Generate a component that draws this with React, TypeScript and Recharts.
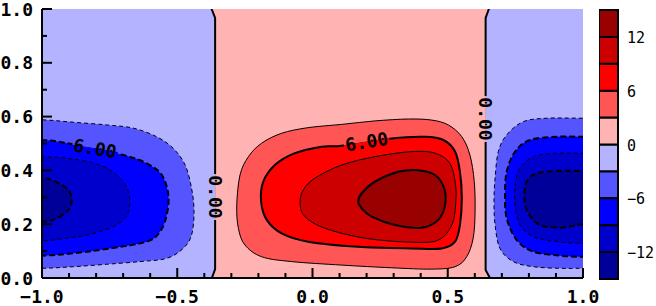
import React from "react";
import {
  ComposedChart,
  Scatter,
  XAxis,
  YAxis,
  ReferenceArea,
  ReferenceDot,
  BarChart,
  Bar,
} from "recharts";

type Pt = { x: number; y: number };

// axis ticks
const xTicks = [-1, -0.9, -0.8, -0.7, -0.6, -0.5, -0.4, -0.3, -0.2, -0.1, 0, 0.1, 0.2, 0.3, 0.4, 0.5, 0.6, 0.7, 0.8, 0.9, 1];
const xMajor = [-1, -0.5, 0, 0.5, 1];
const yTicks = [0, 0.1, 0.2, 0.3, 0.4, 0.5, 0.6, 0.7, 0.8, 0.9, 1];
const yMajor = [0, 0.2, 0.4, 0.6, 0.8, 1];

// contour levels / colours (bottom -> top of colour bar)
const levels = [-15, -12, -9, -6, -3, 0, 3, 6, 9, 12, 15];
const levelColors = ["#000099", "#0000cc", "#0000ff", "#5555ff", "#b3b3ff", "#ffb3b3", "#ff5555", "#ff0000", "#cc0000", "#990000"];
const cbTicks = [-12, -6, 0, 6, 12];

// zero contour (pink band between the two zero lines), extended past the frame
const zeroBand: Pt[] = [
  { x: -0.395, y: 1.06 }, { x: -0.373, y: 1.0 }, { x: -0.36, y: 0.967 }, { x: -0.36, y: 0.033 },
  { x: -0.372, y: 0.0 }, { x: -0.394, y: -0.06 },
  { x: 0.68, y: -0.06 }, { x: 0.656, y: 0.0 }, { x: 0.64, y: 0.03 }, { x: 0.64, y: 0.967 },
  { x: 0.652, y: 1.0 }, { x: 0.674, y: 1.06 },
];

// positive blob (middle)
const pos3: Pt[] = [
  { x: -0.28, y: 0.271 }, { x: -0.268, y: 0.383 }, { x: -0.237, y: 0.451 }, { x: -0.188, y: 0.501 },
  { x: -0.114, y: 0.538 }, { x: -0.016, y: 0.559 }, { x: 0.108, y: 0.571 }, { x: 0.231, y: 0.584 },
  { x: 0.354, y: 0.591 }, { x: 0.441, y: 0.587 }, { x: 0.502, y: 0.569 }, { x: 0.552, y: 0.525 },
  { x: 0.582, y: 0.457 }, { x: 0.598, y: 0.358 }, { x: 0.601, y: 0.246 }, { x: 0.594, y: 0.148 },
  { x: 0.57, y: 0.079 }, { x: 0.527, y: 0.042 }, { x: 0.441, y: 0.033 }, { x: 0.293, y: 0.038 },
  { x: 0.108, y: 0.048 }, { x: -0.077, y: 0.061 }, { x: -0.188, y: 0.079 }, { x: -0.25, y: 0.123 },
  { x: -0.274, y: 0.185 },
];
const pos6: Pt[] = [
  { x: -0.19, y: 0.284 }, { x: -0.182, y: 0.358 }, { x: -0.139, y: 0.42 }, { x: -0.065, y: 0.464 },
  { x: 0.034, y: 0.488 }, { x: 0.108, y: 0.492 }, { x: 0.293, y: 0.519 }, { x: 0.416, y: 0.525 },
  { x: 0.484, y: 0.513 }, { x: 0.527, y: 0.47 }, { x: 0.545, y: 0.395 }, { x: 0.552, y: 0.296 },
  { x: 0.545, y: 0.197 }, { x: 0.527, y: 0.135 }, { x: 0.478, y: 0.11 }, { x: 0.367, y: 0.11 },
  { x: 0.169, y: 0.116 }, { x: -0.016, y: 0.135 }, { x: -0.114, y: 0.166 }, { x: -0.169, y: 0.216 },
];
const pos9: Pt[] = [
  { x: -0.046, y: 0.278 }, { x: -0.034, y: 0.327 }, { x: 0.009, y: 0.371 }, { x: 0.108, y: 0.42 },
  { x: 0.231, y: 0.451 }, { x: 0.367, y: 0.47 }, { x: 0.453, y: 0.464 }, { x: 0.508, y: 0.426 },
  { x: 0.529, y: 0.346 }, { x: 0.529, y: 0.271 }, { x: 0.515, y: 0.197 }, { x: 0.465, y: 0.141 },
  { x: 0.367, y: 0.133 }, { x: 0.194, y: 0.148 }, { x: 0.046, y: 0.185 }, { x: -0.028, y: 0.228 },
];
const pos12: Pt[] = [
  { x: 0.169, y: 0.284 }, { x: 0.182, y: 0.315 }, { x: 0.231, y: 0.358 }, { x: 0.317, y: 0.395 },
  { x: 0.391, y: 0.401 }, { x: 0.453, y: 0.383 }, { x: 0.487, y: 0.333 }, { x: 0.49, y: 0.271 },
  { x: 0.465, y: 0.216 }, { x: 0.404, y: 0.187 }, { x: 0.305, y: 0.197 }, { x: 0.219, y: 0.228 },
  { x: 0.182, y: 0.259 },
];

// negative blob cut by the left edge
const negL3: Pt[] = [
  { x: -1.15, y: 0.588 }, { x: -1.0, y: 0.588 }, { x: -0.884, y: 0.579 }, { x: -0.761, y: 0.569 },
  { x: -0.662, y: 0.557 }, { x: -0.576, y: 0.525 }, { x: -0.515, y: 0.482 }, { x: -0.471, y: 0.42 },
  { x: -0.447, y: 0.333 }, { x: -0.438, y: 0.246 }, { x: -0.447, y: 0.16 }, { x: -0.478, y: 0.11 },
  { x: -0.539, y: 0.073 }, { x: -0.638, y: 0.061 }, { x: -0.761, y: 0.051 }, { x: -0.884, y: 0.042 },
  { x: -1.0, y: 0.036 }, { x: -1.15, y: 0.036 },
];
const negL6: Pt[] = [
  { x: -1.15, y: 0.513 }, { x: -1.0, y: 0.513 }, { x: -0.884, y: 0.497 }, { x: -0.699, y: 0.457 },
  { x: -0.613, y: 0.426 }, { x: -0.557, y: 0.383 }, { x: -0.533, y: 0.309 }, { x: -0.539, y: 0.234 },
  { x: -0.564, y: 0.172 }, { x: -0.613, y: 0.135 }, { x: -0.761, y: 0.108 }, { x: -0.884, y: 0.092 },
  { x: -1.0, y: 0.083 }, { x: -1.15, y: 0.083 },
];
const negL9: Pt[] = [
  { x: -1.15, y: 0.451 }, { x: -1.0, y: 0.451 }, { x: -0.884, y: 0.442 }, { x: -0.786, y: 0.42 },
  { x: -0.724, y: 0.383 }, { x: -0.685, y: 0.333 }, { x: -0.675, y: 0.278 }, { x: -0.689, y: 0.228 },
  { x: -0.736, y: 0.191 }, { x: -0.823, y: 0.162 }, { x: -0.909, y: 0.148 }, { x: -1.0, y: 0.138 },
  { x: -1.15, y: 0.138 },
];
const negL12: Pt[] = [
  { x: -1.15, y: 0.371 }, { x: -1.0, y: 0.371 }, { x: -0.946, y: 0.356 }, { x: -0.903, y: 0.327 },
  { x: -0.89, y: 0.29 }, { x: -0.903, y: 0.253 }, { x: -0.946, y: 0.222 }, { x: -1.0, y: 0.209 },
  { x: -1.15, y: 0.209 },
];

// negative blob cut by the right edge
const negR3: Pt[] = [
  { x: 1.15, y: 0.594 }, { x: 1.0, y: 0.594 }, { x: 0.866, y: 0.594 }, { x: 0.779, y: 0.581 },
  { x: 0.718, y: 0.532 }, { x: 0.687, y: 0.47 }, { x: 0.675, y: 0.371 }, { x: 0.671, y: 0.284 },
  { x: 0.675, y: 0.197 }, { x: 0.693, y: 0.11 }, { x: 0.742, y: 0.061 }, { x: 0.816, y: 0.042 },
  { x: 0.915, y: 0.036 }, { x: 1.0, y: 0.036 }, { x: 1.15, y: 0.036 },
];
const negR6: Pt[] = [
  { x: 1.15, y: 0.525 }, { x: 1.0, y: 0.525 }, { x: 0.903, y: 0.525 }, { x: 0.804, y: 0.513 },
  { x: 0.749, y: 0.47 }, { x: 0.718, y: 0.395 }, { x: 0.712, y: 0.309 }, { x: 0.718, y: 0.222 },
  { x: 0.755, y: 0.141 }, { x: 0.816, y: 0.098 }, { x: 0.915, y: 0.083 }, { x: 1.0, y: 0.079 },
  { x: 1.15, y: 0.079 },
];
const negR9: Pt[] = [
  { x: 1.15, y: 0.464 }, { x: 1.0, y: 0.464 }, { x: 0.903, y: 0.464 }, { x: 0.816, y: 0.451 },
  { x: 0.767, y: 0.408 }, { x: 0.749, y: 0.346 }, { x: 0.749, y: 0.271 }, { x: 0.767, y: 0.197 },
  { x: 0.816, y: 0.154 }, { x: 0.903, y: 0.135 }, { x: 1.0, y: 0.129 }, { x: 1.15, y: 0.129 },
];
const negR12: Pt[] = [
  { x: 1.15, y: 0.398 }, { x: 1.0, y: 0.398 }, { x: 0.903, y: 0.398 }, { x: 0.829, y: 0.389 },
  { x: 0.792, y: 0.358 }, { x: 0.783, y: 0.296 }, { x: 0.798, y: 0.241 }, { x: 0.841, y: 0.197 },
  { x: 0.915, y: 0.187 }, { x: 0.964, y: 0.194 }, { x: 1.0, y: 0.2 }, { x: 1.15, y: 0.2 },
];

// contour labels
const labelX = [0.2, -0.804, -0.36, 0.641];
const labelY = [0.507, 0.482, 0.301, 0.591];
const labelText = ["6.00", "6.00", "0.00", "0.00"];

const FONT = "'DejaVu Sans Mono', monospace";
const THIN_DASH = "4 3";
const THICK_DASH = "6 3";

type Style = { fill: string; width: number; dash?: string; smooth: boolean };

const contours: { pts: Pt[]; style: Style }[] = [
  { pts: zeroBand, style: { fill: levelColors[5], width: 2, smooth: false } },
  { pts: pos3, style: { fill: levelColors[6], width: 1, smooth: true } },
  { pts: pos6, style: { fill: levelColors[7], width: 2, smooth: true } },
  { pts: pos9, style: { fill: levelColors[8], width: 1, smooth: true } },
  { pts: pos12, style: { fill: levelColors[9], width: 2, smooth: true } },
  { pts: negL3, style: { fill: levelColors[3], width: 1, dash: THIN_DASH, smooth: true } },
  { pts: negL6, style: { fill: levelColors[2], width: 2, dash: THICK_DASH, smooth: true } },
  { pts: negL9, style: { fill: levelColors[1], width: 1, dash: THIN_DASH, smooth: true } },
  { pts: negL12, style: { fill: levelColors[0], width: 2, dash: THICK_DASH, smooth: true } },
  { pts: negR3, style: { fill: levelColors[3], width: 1, dash: THIN_DASH, smooth: true } },
  { pts: negR6, style: { fill: levelColors[2], width: 2, dash: THICK_DASH, smooth: true } },
  { pts: negR9, style: { fill: levelColors[1], width: 1, dash: THIN_DASH, smooth: true } },
  { pts: negR12, style: { fill: levelColors[0], width: 2, dash: THICK_DASH, smooth: true } },
];

// label look: rotation and the two colours either side of the broken line
const labelLook = [
  { rot: -9, a: levelColors[6], b: levelColors[7] },
  { rot: 9, a: levelColors[3], b: levelColors[2] },
  { rot: 90, a: levelColors[5], b: levelColors[4] },
  { rot: 90, a: levelColors[4], b: levelColors[5] },
];

function closedPath(pts: { x: number; y: number }[], smooth: boolean) {
  const n = pts.length;
  if (!n) return "";
  if (!smooth) return "M" + pts.map((p) => `${p.x},${p.y}`).join("L") + "Z";
  let d = `M${pts[0].x},${pts[0].y}`;
  for (let i = 0; i < n; i++) {
    const p0 = pts[(i - 1 + n) % n];
    const p1 = pts[i];
    const p2 = pts[(i + 1) % n];
    const p3 = pts[(i + 2) % n];
    const c1x = p1.x + (p2.x - p0.x) / 6;
    const c1y = p1.y + (p2.y - p0.y) / 6;
    const c2x = p2.x - (p3.x - p1.x) / 6;
    const c2y = p2.y - (p3.y - p1.y) / 6;
    d += `C${c1x},${c1y} ${c2x},${c2y} ${p2.x},${p2.y}`;
  }
  return d + "Z";
}

const outline = (s: Style) => (props: any) => (
  <path
    d={closedPath(props.points || [], s.smooth)}
    fill={s.fill}
    stroke="#000"
    strokeWidth={s.width}
    strokeDasharray={s.dash}
  />
);

const noDot = () => <g />;

const fmt = (v: number) => (Math.abs(v) < 1e-9 ? "0.0" : v.toFixed(1).replace("-", "\u2212"));

function axisTick(side: "bottom" | "top" | "left" | "right", majors: number[], withLabels: boolean) {
  return (p: any) => {
    const v = p.payload.value;
    const major = majors.some((m) => Math.abs(m - v) < 1e-6);
    const len = major ? 10 : 5;
    const { x, y } = p;
    const ln = { stroke: "#000", strokeWidth: 2 };
    let line = null;
    let label = null;
    if (side === "bottom") {
      line = <line x1={x} y1={y} x2={x} y2={y - len} {...ln} />;
      if (withLabels && major)
        label = (
          <text x={x} y={y + 25} textAnchor="middle" fontFamily={FONT} fontWeight="bold" fontSize={18} fill="#000">
            {fmt(v)}
          </text>
        );
    } else if (side === "top") {
      line = <line x1={x} y1={y} x2={x} y2={y + len} {...ln} />;
    } else if (side === "left") {
      line = <line x1={x} y1={y} x2={x + len} y2={y} {...ln} />;
      if (withLabels && major)
        label = (
          <text x={x - 9} y={y + 6.5} textAnchor="end" fontFamily={FONT} fontWeight="bold" fontSize={18} fill="#000">
            {fmt(v)}
          </text>
        );
    } else {
      line = <line x1={x} y1={y} x2={x - len} y2={y} {...ln} />;
    }
    return (
      <g>
        {line}
        {label}
      </g>
    );
  };
}

const contourLabel = (i: number) => (p: any) => {
  const { cx, cy } = p;
  const look = labelLook[i];
  return (
    <g transform={`translate(${cx},${cy}) rotate(${look.rot})`}>
      <rect x={-23} y={-3.5} width={46} height={3.5} fill={look.a} />
      <rect x={-23} y={0} width={46} height={3.5} fill={look.b} />
      <text
        x={0}
        y={0}
        textAnchor="middle"
        dominantBaseline="central"
        fontFamily={FONT}
        fontWeight="bold"
        fontSize={18}
        fill="#000"
      >
        {labelText[i]}
      </text>
    </g>
  );
};

// colour bar: one stacked column, negatives stacked downward from 0
const cbRow: Record<string, number | string> = { name: "cb" };
levels.slice(0, -1).forEach((lo, i) => {
  cbRow[`b${i}`] = lo < 0 ? lo - levels[i + 1] : levels[i + 1] - lo;
});
const cbOrder = [4, 3, 2, 1, 0, 5, 6, 7, 8, 9];

const cbTick = (p: any) => {
  const s = String(p.payload.value).replace("-", "\u2212");
  return (
    <text x={p.x + 9} y={p.y + 6} fontFamily={FONT} fontSize={15} fill="#000">
      {s}
    </text>
  );
};

export default function App() {
  return (
    <div style={{ position: "absolute", left: 0, top: 0, width: 656, height: 306, background: "#fff" }}>
      <div style={{ position: "absolute", left: 0, top: 0 }}>
        <ComposedChart width={600} height={306} margin={{ top: 9, right: 17, bottom: 0, left: 0 }}>
          <ReferenceArea x1={-1} x2={1} y1={0} y2={1} fill={levelColors[4]} fillOpacity={1} stroke="none" zIndex={50} />
          {contours.map((c, i) => (
            <Scatter
              key={i}
              data={c.pts}
              line={outline(c.style)}
              shape={noDot}
              isAnimationActive={false}
              legendType="none"
              zIndex={100}
            />
          ))}
          {labelX.map((x, i) => (
            <ReferenceDot key={i} x={x} y={labelY[i]} r={0} shape={contourLabel(i)} zIndex={200} />
          ))}
          <XAxis
            dataKey="x"
            type="number"
            domain={[-1, 1]}
            allowDataOverflow
            ticks={xTicks}
            interval={0}
            height={28}
            tickSize={0}
            tickMargin={0}
            tickLine={false}
            axisLine={{ stroke: "#000", strokeWidth: 2 }}
            tick={axisTick("bottom", xMajor, true)}
            zIndex={1000}
          />
          <XAxis
            xAxisId="top"
            orientation="top"
            type="number"
            domain={[-1, 1]}
            allowDataOverflow
            ticks={xTicks}
            interval={0}
            height={0}
            tickSize={0}
            tickMargin={0}
            tickLine={false}
            axisLine={{ stroke: "#000", strokeWidth: 2 }}
            tick={axisTick("top", xMajor, false)}
            zIndex={1000}
          />
          <YAxis
            dataKey="y"
            type="number"
            domain={[0, 1]}
            allowDataOverflow
            ticks={yTicks}
            interval={0}
            width={42}
            tickSize={0}
            tickMargin={0}
            tickLine={false}
            axisLine={{ stroke: "#000", strokeWidth: 2 }}
            tick={axisTick("left", yMajor, true)}
            zIndex={1000}
          />
          <YAxis
            yAxisId="right"
            orientation="right"
            type="number"
            domain={[0, 1]}
            allowDataOverflow
            ticks={yTicks}
            interval={0}
            width={0}
            tickSize={0}
            tickMargin={0}
            tickLine={false}
            axisLine={{ stroke: "#000", strokeWidth: 2 }}
            tick={axisTick("right", yMajor, false)}
            zIndex={1000}
          />
        </ComposedChart>
      </div>
      <div style={{ position: "absolute", left: 599, top: 0 }}>
        <BarChart
          width={57}
          height={306}
          data={[cbRow]}
          stackOffset="sign"
          barCategoryGap={0}
          margin={{ top: 10, right: 0, bottom: 27, left: 0 }}
        >
          <XAxis dataKey="name" hide />
          <YAxis
            orientation="right"
            type="number"
            domain={[-15, 15]}
            ticks={cbTicks}
            interval={0}
            width={38}
            tickSize={0}
            tickMargin={0}
            tickLine={false}
            axisLine={false}
            tick={cbTick}
          />
          {cbOrder.map((i) => (
            <Bar
              key={i}
              dataKey={`b${i}`}
              stackId="cb"
              fill={levelColors[i]}
              stroke="#000"
              strokeWidth={2}
              isAnimationActive={false}
            />
          ))}
        </BarChart>
      </div>
    </div>
  );
}
